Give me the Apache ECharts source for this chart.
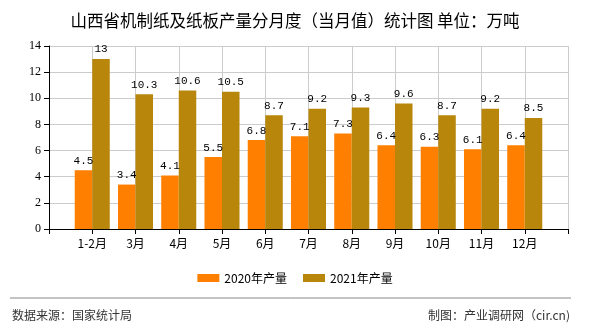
<!DOCTYPE html>
<html><head><meta charset="utf-8">
<script src="https://cdn.jsdelivr.net/npm/echarts@6/dist/echarts.min.js"></script>
<style>html,body{margin:0;padding:0;background:#fff}#c{width:590px;height:330px}</style>
</head><body><div id="c"></div>
<script>
const categories = ['1-2月','3月','4月','5月','6月','7月','8月','9月','10月','11月','12月'];
const values2020 = [4.5,3.4,4.1,5.5,6.8,7.1,7.3,6.4,6.3,6.1,6.4];
const values2021 = [13,10.3,10.6,10.5,8.7,9.2,9.3,9.6,8.7,9.2,8.5];
const seriesNames = ['2020年产量','2021年产量'];
const yTicks = [0,2,4,6,8,10,12,14];

const cats = [''].concat(categories, ['']);
const pad = a => [null].concat(a, [null]);
const cjk = '"SimSun","Noto Sans CJK SC",sans-serif';
const chart = echarts.init(document.getElementById('c'));
const labelStyle = {show:true, position:'top', distance:4, color:'#000', fontSize:11, fontFamily:'"Liberation Mono","DejaVu Sans Mono",monospace'};
chart.setOption({
  animation:false,
  title:{text:'山西省机制纸及纸板产量分月度（当月值）统计图 单位：万吨', left:'center', top:7,
    textStyle:{fontSize:16.5, fontWeight:'normal', color:'#000', fontFamily:cjk}},
  legend:{top:267, left:'center', itemWidth:22, itemHeight:8, itemGap:16, icon:'rect',
    textStyle:{fontSize:12, color:'#000', fontFamily:'"Noto Sans CJK SC",sans-serif'},
    data:seriesNames},
  grid:{left:49, right:22, top:46, bottom:101, containLabel:false},
  xAxis:{type:'category', data:cats, boundaryGap:false,
    axisLine:{lineStyle:{color:'#000'}}, axisTick:{show:true, length:5, lineStyle:{color:'#000'}, alignWithLabel:true},
    splitLine:{show:true, lineStyle:{color:'#ccc'}},
    axisLabel:{color:'#000', fontSize:12, margin:8, interval:0, fontFamily:cjk}},
  yAxis:{type:'value', min:yTicks[0], max:yTicks[yTicks.length-1], interval:2,
    axisLine:{show:true, lineStyle:{color:'#000'}}, axisTick:{show:true, length:5, lineStyle:{color:'#000'}},
    splitLine:{lineStyle:{color:'#ccc'}},
    axisLabel:{color:'#000', fontSize:12, margin:8, fontFamily:'"Liberation Serif",serif'}},
  series:[
    {name:seriesNames[0], type:'bar', data:pad(values2020), barGap:'0%', barCategoryGap:'19%',
      itemStyle:{color:'#FF8000'}, label:labelStyle},
    {name:seriesNames[1], type:'bar', data:pad(values2021), barGap:'0%', barCategoryGap:'19%',
      itemStyle:{color:'#B8860B'}, label:labelStyle}
  ],
  graphic:[
    {type:'line', shape:{x1:10, y1:298, x2:571, y2:298}, style:{stroke:'#888', lineWidth:1}},
    {type:'text', left:12, top:309, style:{text:'数据来源：国家统计局', fill:'#333', fontSize:12, fontFamily:'"Noto Sans CJK SC",sans-serif'}},
    {type:'text', right:20, top:309, style:{text:'制图：产业调研网（cir.cn)', fill:'#333', fontSize:12, fontFamily:'"Noto Sans CJK SC",sans-serif'}}
  ]
});
</script></body></html>
